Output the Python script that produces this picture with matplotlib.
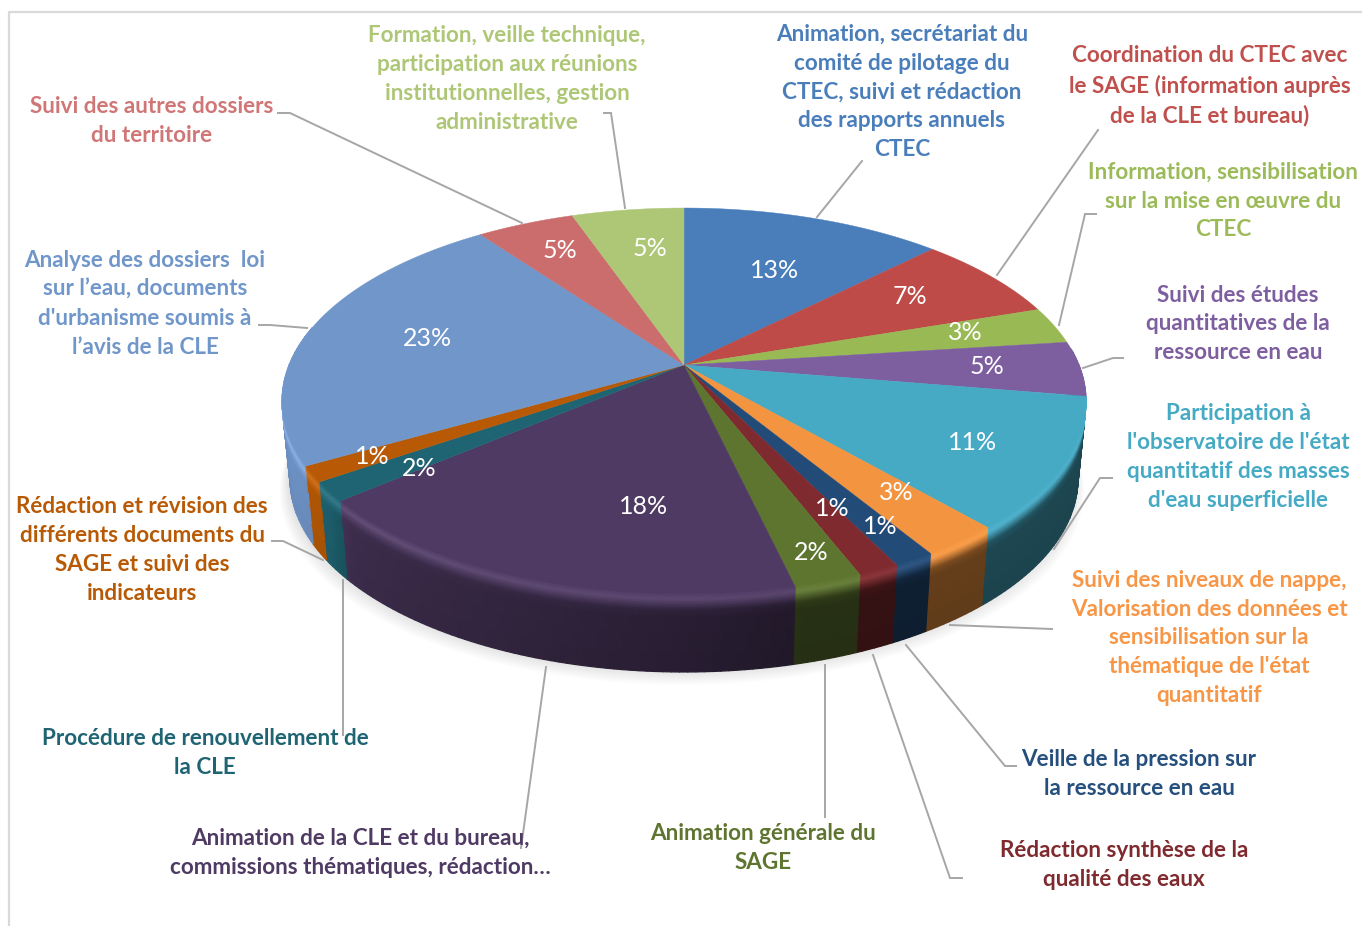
import numpy as np
import matplotlib
matplotlib.use('Agg')
import matplotlib.pyplot as plt
from matplotlib.collections import PolyCollection
from matplotlib.colors import to_rgb

plt.rcParams['font.family'] = ['Lato', 'DejaVu Sans']

# clockwise from 12 o'clock (labels show them rounded)
shares = [12.6, 7.3, 3.1, 4.6, 10.9, 2.7, 1.4, 1.4, 2.3, 17.6, 1.6, 1.3, 23.1, 4.7, 5.4]
names = [
    "Animation, secrétariat du\ncomité de pilotage du\nCTEC, suivi et rédaction\ndes rapports annuels\nCTEC",
    "Coordination du CTEC avec\nle SAGE (information auprès\nde la CLE et bureau)",
    "Information, sensibilisation\nsur la mise en œuvre du\nCTEC",
    "Suivi des études\nquantitatives de la\nressource en eau",
    "Participation à\nl'observatoire de l'état\nquantitatif des masses\nd'eau superficielle",
    "Suivi des niveaux de nappe,\nValorisation des données et\nsensibilisation sur la\nthématique de l'état\nquantitatif",
    "Veille de la pression sur\nla ressource en eau",
    "Rédaction synthèse de la\nqualité des eaux",
    "Animation générale du\nSAGE",
    "Animation de la CLE et du bureau,\ncommissions thématiques, rédaction…",
    "Procédure de renouvellement de\nla CLE",
    "Rédaction et révision des\ndifférents documents du\nSAGE et suivi des\nindicateurs",
    "Analyse des dossiers  loi\nsur l’eau, documents\nd'urbanisme soumis à\nl’avis de la CLE",
    "Suivi des autres dossiers\ndu territoire",
    "Formation, veille technique,\nparticipation aux réunions\ninstitutionnelles, gestion\nadministrative",
]
colors = ['#4a7ebb', '#be4b48', '#98b954', '#7d5fa0', '#46aac5', '#f39540', '#234b78', '#7f2a2e',
          '#5e7530', '#4f3a63', '#1f6473', '#b85a05', '#7096ca', '#cb6d6c', '#aec777']
text_colors = ['#4a7ebb', '#c0504d', '#9bbb59', '#7d5fa0', '#46aac5', '#f79646', '#254f7c', '#7f2a2e',
               '#5e7530', '#4f3a63', '#1f6473', '#b85a05', '#7096ca', '#d07676', '#aec777']

# layout, in pixels of the picture
pct_xy = [(775, 270), (910, 296), (965, 333), (987, 367), (973, 443), (896, 493), (880, 526), (832, 509),
          (811, 553), (644, 507), (419, 469), (372, 457), (427, 339), (560, 250), (650, 248)]
name_xy = [(902, 92), (1210, 86), (1223, 201), (1238, 324), (1238, 457), (1209, 638), (1139, 774), (1124, 865),
           (763, 848), (360, 853), (205, 753), (142, 550), (145, 304), (152, 121), (507, 79)]
leaders = [
    [(817, 217), (862, 161)],
    [(997, 275), (1098, 130)],
    [(1059, 325), (1085, 214), (1096, 214)],
    [(1083, 368), (1113, 358), (1123, 358)],
    [(1054, 549), (1100, 478), (1112, 478)],
    [(950, 625), (1052, 629)],
    [(906, 645), (1005, 766), (1016, 766)],
    [(873, 655), (950, 878), (962, 878)],
    [(825, 665), (825, 817)],
    [(546, 667), (521, 848)],
    [(343, 580), (343, 735)],
    [(323, 560), (283, 541), (272, 541)],
    [(307, 328), (270, 325), (259, 325)],
    [(522, 223), (290, 113), (278, 113)],
    [(625, 208), (611, 113), (604, 113)],
]

CX, CY = 684, 365
DEPTH = 78
TAPER = 0.98


def top_face(angle):
    # perspective view of a unit circle, angle in degrees clockwise from the top
    u = np.sin(np.radians(angle))
    v = -np.cos(np.radians(angle))
    d = 1 - 0.1865 * v
    return CX + 394.9 * u / d, (CY + 118.2 * v) / d


def shade(angle):
    return np.interp(angle, [85, 165, 180, 228, 234, 250, 280], [.42, .42, .52, .78, .95, .98, .92])


def shine_gain(angle):
    return np.interp(angle, [85, 180, 228, 262, 285], [.5, .8, 1.2, 1.8, 0])


fig = plt.figure(figsize=(13.62, 9.26), dpi=100)
ax = fig.add_axes([0, 0, 1, 1])
ax.set_xlim(0, 1362)
ax.set_ylim(926, 0)
ax.axis('off')

ax.plot([9, 9, 1362], [926, 12, 12], color='#d9d9d9', lw=1.6, zorder=1)

# soft shadow under the disc
ring = np.linspace(0, 360, 361)
rx, ry = top_face(ring)
for i in range(14):
    s = TAPER + 0.0016 * i
    ax.fill(CX + (rx - CX) * s - 2, ry + DEPTH + 1.0 * i, color='black', alpha=0.009, lw=0, zorder=2)

edges = np.concatenate([[0], np.cumsum(shares)]) * 360 / np.sum(shares)

# side wall, built as small quads so the bevel and the shading can vary
rows = np.r_[np.linspace(0, .32, 17), .5, .75, 1]
mix = np.interp(rows, [0, .06, .12, .2, .3], [1, .96, .66, .14, 0])
shine = np.interp(rows, [0, .06, .12, .2], [.02, .07, .03, 0])
quads, quad_colors, quad_rows = [], [], []
for i, col in enumerate(colors):
    lo, hi = max(edges[i], 85), min(edges[i + 1], 282)
    if hi <= lo:
        continue
    base = np.array(to_rgb(col))
    angs = np.linspace(lo, hi, max(int(hi - lo) + 2, 2))
    x, y = top_face(angs)
    for a0, a1, x0, x1, y0, y1 in zip(angs[:-1], angs[1:], x[:-1], x[1:], y[:-1], y[1:]):
        mid = (a0 + a1) / 2
        for r in range(len(rows) - 1):
            t0, t1 = rows[r], rows[r + 1]
            k0 = 1 - (1 - TAPER) * t0
            k1 = 1 - (1 - TAPER) * t1
            quads.append([(CX + (x0 - CX) * k0, y0 + DEPTH * t0), (CX + (x1 - CX) * k0, y1 + DEPTH * t0),
                          (CX + (x1 - CX) * k1, y1 + DEPTH * t1), (CX + (x0 - CX) * k1, y0 + DEPTH * t1)])
            m = (mix[r] + mix[r + 1]) / 2
            f = shade(mid) * (1 - 0.06 * t0)
            c = base * (m + (1 - m) * f) + shine_gain(mid) * (shine[r] + shine[r + 1]) / 2
            quad_colors.append(np.clip(c, 0, 1))
            quad_rows.append(r)

# lower rows first, so the wall never covers the bevel near the left end
order = np.argsort(-np.array(quad_rows), kind='stable')
quads = [quads[j] for j in order]
quad_colors = [quad_colors[j] for j in order]
ax.add_collection(PolyCollection(quads, facecolors=quad_colors, edgecolors=quad_colors, linewidths=0.9, zorder=3))

# top face
for i, col in enumerate(colors):
    angs = np.linspace(edges[i], edges[i + 1], max(int(edges[i + 1] - edges[i]) * 2 + 2, 3))
    x, y = top_face(angs)
    ax.fill(np.r_[CX, x], np.r_[CY, y], color=col, lw=0.3, zorder=4)

for s, (px, py) in zip(shares, pct_xy):
    ax.text(px, py, f'{s:.0f}%', color='white', fontsize=18, ha='center', va='center', zorder=6)

for line in leaders:
    xs, ys = zip(*line)
    ax.plot(xs, ys, color='#a6a6a6', lw=1.4, zorder=5, solid_joinstyle='miter')

for name, col, (nx, ny) in zip(names, text_colors, name_xy):
    ax.text(nx, ny, name, color=col, fontsize=16.2, fontweight='bold', ha='center', va='center',
            linespacing=1.47, zorder=6)

fig.savefig('out.png', dpi=100)
